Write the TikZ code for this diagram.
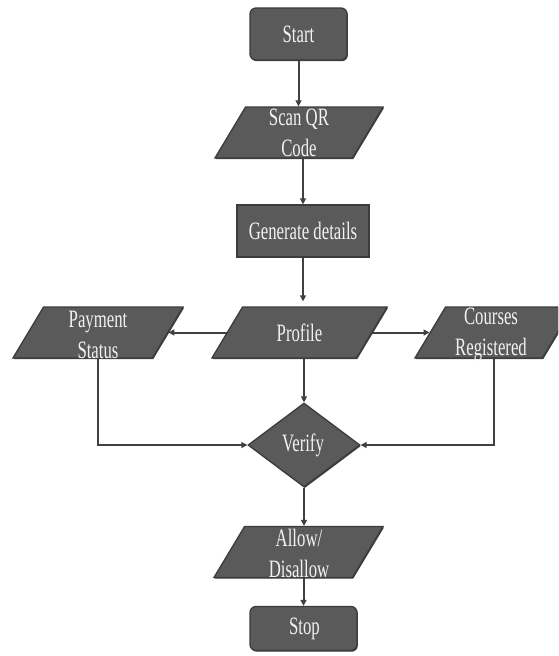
\documentclass[tikz,border=0pt]{standalone}
\usepackage{fontspec}
\setmainfont{Liberation Serif}[FakeStretch=0.67]
\usetikzlibrary{shapes.geometric,arrows.meta,shadows}
\definecolor{boxfill}{HTML}{5A5A5A}
\definecolor{boxline}{HTML}{3C3C3C}
\definecolor{lineclr}{HTML}{404040}
\definecolor{txtclr}{HTML}{F2F2F2}
\begin{document}
\begin{tikzpicture}[x=1pt,y=-1pt,
  shp/.style={fill=boxfill, draw=boxline, line width=1.3pt, inner sep=0pt,
    drop shadow={shadow xshift=0.8pt, shadow yshift=-1.2pt, fill=black!75, opacity=1}},
  rbox/.style={shp, rectangle, rounded corners=6pt},
  sbox/.style={shp, rectangle},
  para/.style={shp, trapezium, trapezium left angle=59, trapezium right angle=121,
    text height=25.5pt, text depth=25.5pt, text width=#1},
  dia/.style={shp, diamond, minimum width=112pt, minimum height=84pt},
  txt/.style={text=txtclr, font=\fontsize{25}{31}\selectfont, align=center, inner sep=0pt},
  arr/.style={draw=lineclr, line width=2pt, -{Triangle[length=6pt,width=6pt]}}]
\clip (0,0) rectangle (558,656);
\fill[white] (0,0) rectangle (558,656);

\node[rbox, minimum width=97pt, minimum height=52pt] (start) at (298.5,34) {};
\node[txt] (startt) at (start) {Start};

\node[para=106.8pt] (scan) at (299,132.5) {};
\node[txt] (scant) at (299,133) {Scan QR\\Code};

\node[sbox, minimum width=132pt, minimum height=52pt] (gen) at (303,231) {};
\node[txt] (gent) at (gen) {Generate details};

\node[para=113.8pt] (prof) at (299.5,332.5) {};
\node[txt] (proft) at (prof) {Profile};

\node[para=108.8pt] (pay) at (98,332.5) {};
\node[txt] (payt) at (98,335) {Payment\\Status};

\node[para=96.8pt] (cour) at (494,332.5) {};
\node[txt] (court) at (491,334) {Courses\\Registered};

\node[dia] (ver) at (304,445) {};
\node[txt] (vert) at (303,445) {Verify};

\node[para=107.8pt] (allow) at (298.5,552) {};
\node[txt] (allowt) at (299,553) {Allow/\\Disallow};

\node[rbox, minimum width=107pt, minimum height=44pt] (stop) at (303.5,628.5) {};
\node[txt] (stopt) at (304.5,629) {Stop};

\draw[arr] (start.south) -- (start.south |- scan.north);
\draw[arr] (gen.north |- scan.south) -- (gen.north);
\draw[arr, shorten >=5pt] (gen.south) -- (gen.south |- prof.north);
\draw[arr] (prof.west) -- (pay.east);
\draw[arr] (prof.east) -- (cour.west);
\draw[arr] (ver.north |- prof.south) -- (ver.north);
\draw[arr] (pay.south) |- (ver.west);
\draw[arr] (cour.south) |- (ver.east);
\draw[arr] (ver.south) -- (ver.south |- allow.north);
\draw[arr] (stop.north |- allow.south) -- (stop.north);
\end{tikzpicture}
\end{document}
